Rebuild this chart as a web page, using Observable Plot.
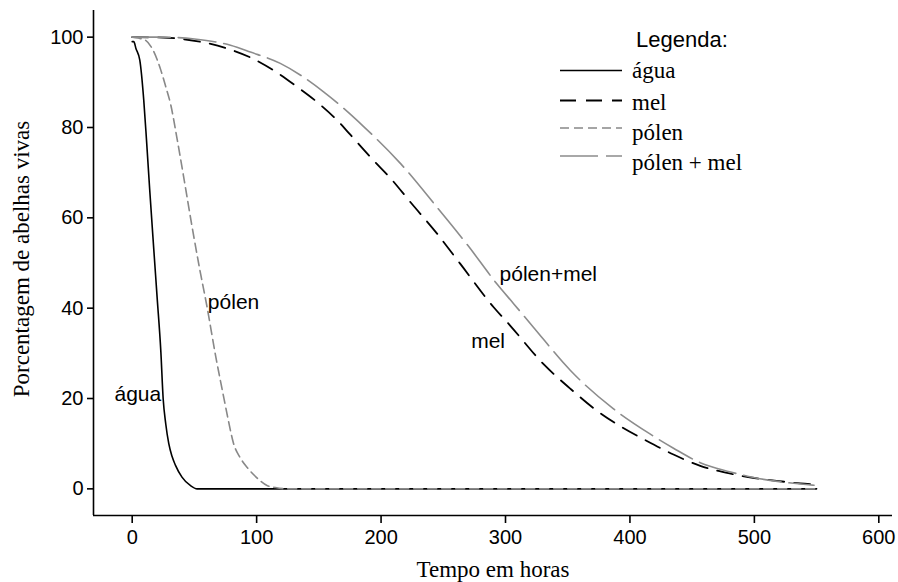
<!DOCTYPE html>
<html><head><meta charset="utf-8">
<script src="https://cdn.jsdelivr.net/npm/d3@7"></script>
<script src="https://cdn.jsdelivr.net/npm/@observablehq/plot@0.6"></script>
<style>
body{margin:0;background:#fff}
#wrap{position:relative;width:898px;height:582px;overflow:hidden}
#wrap svg.legend{position:absolute;left:0;top:0;pointer-events:none}
</style>
</head><body><div id="wrap"></div>
<script>
// ---- data ----
const aguaX = [0,1.3,3,6.1,9.3,11.5,14,17.4,20,23,24.9,27,29.4,32,34.8,40,46.9,52.2,55,550];
const aguaY = [99,99,97.5,94.9,86,77.2,66.5,52.8,42.5,30.5,19.9,14.3,10,7.2,5.2,2.6,0.7,0,0,0];

const melX = [0,25,50,75,95,115,132.5,150,164.7,175.3,194,207.5,223.5,245,263.7,290.5,303.9,330.6,352,373.4,389.6,413.6,435,456.5,480,500,520,537,548];
const melY = [100,99.9,99.2,97.6,95.5,92.4,89,85.3,81.6,78.4,72.7,68.8,63.5,56.5,49.8,40.2,36.1,27.6,22.2,17.3,14.3,10.6,7.6,5.1,3.4,2.4,1.7,1.2,1.0];

const polenX = [0,5,10.7,17,23,27,31,36,42,48.2,54,60.2,67,73.6,77,81.5,87,92.5,100,108.7,115,125,550];
const polenY = [100,99.8,99.3,97,92.7,89,85,77.6,68,57.9,49,40.2,29.5,20.2,15.5,10,6.8,4.7,2.5,0.7,0.3,0,0];

const polenMelX = [0,25,50,79,95,119,153.8,186,215.7,244.8,270,293,306.5,322.4,352.2,386.8,416.4,435,456.5,480,499.3,520,543.5,548];
const polenMelY = [100,100,99.6,98.2,96.7,94.2,87.9,80.2,72,62.4,53.8,45.4,41,35.8,26.2,17.7,12.1,9,5.8,3.8,2.5,1.6,0.9,0.8];

const seriesNames = ["água","mel","pólen","pólen + mel"];
const seriesX = [aguaX, melX, polenX, polenMelX];
const seriesY = [aguaY, melY, polenY, polenMelY];

const xTicks = [0,100,200,300,400,500,600];
const yTicks = [0,20,40,60,80,100];
const xDomain = [-31.1, 611];
const yDomain = [-5.9, 105.9];

const labelText = ["água","pólen","mel","pólen+mel"];
const labelX = [23.3, 60.8, 272.4, 295.2];
const labelY = [20.9, 41.3, 32.6, 47.5];

const xTitle = "Tempo em horas";
const yTitle = "Porcentagem de abelhas vivas";
const legendTitle = "Legenda:";

// ---- styles ----
const styles = [
  {stroke:"#000", width:1.6, dash:null},
  {stroke:"#000", width:1.8, dash:"16,10"},
  {stroke:"#888", width:1.6, dash:"9,5"},
  {stroke:"#8c8c8c", width:1.6, dash:"38,8"}
];
const serif = "'Liberation Serif', 'Times New Roman', serif";
const sans = "'Liberation Sans', Arial, sans-serif";

const rows = seriesNames.flatMap((n, k) => seriesX[k].map((x, i) => ({serie: n, hours: x, pct: seriesY[k][i]})));
const labels = labelText.map((t, i) => ({text: t, x: labelX[i], y: labelY[i]}));

const chart = Plot.plot({
  width: 898, height: 582,
  marginLeft: 93, marginRight: 6, marginTop: 10, marginBottom: 67,
  style: {fontFamily: sans, fontSize: "20px", background: "#fff", color: "#000"},
  x: {domain: xDomain},
  y: {domain: yDomain},
  marks: [
    Plot.ruleX([xDomain[0]], {stroke: "#000", strokeWidth: 1.6}),
    Plot.ruleY([yDomain[0]], {stroke: "#000", strokeWidth: 1.6}),
    Plot.axisX({ticks: xTicks, tickSize: 8, tickPadding: 6, label: null, fontSize: 20, strokeWidth: 1.6}),
    Plot.axisY({ticks: yTicks, tickSize: 6, tickPadding: 4, label: null, fontSize: 20, strokeWidth: 1.6}),
    ...seriesNames.map((n, k) => Plot.line(rows.filter(r => r.serie === n), {
      x: "hours", y: "pct", stroke: styles[k].stroke, strokeWidth: styles[k].width,
      strokeDasharray: styles[k].dash, curve: "monotone-x"
    })),
    Plot.text(labels.filter(d => d.text === "água"), {x: "x", y: "y", text: "text", textAnchor: "end", fontSize: 21, fontFamily: sans, fill: "#000"}),
    Plot.text(labels.filter(d => d.text !== "água"), {x: "x", y: "y", text: "text", textAnchor: "start", fontSize: 21, fontFamily: sans, fill: "#000"}),
    Plot.text([xTitle], {frameAnchor: "bottom", textAnchor: "middle", dy: 61, fontSize: 23, fontFamily: serif, fill: "#000"}),
    Plot.text([yTitle], {frameAnchor: "left", textAnchor: "middle", dx: -72, dy: -4, rotate: -90, fontSize: 23, fontFamily: serif, fill: "#000"})
  ]
});
const wrap = document.getElementById("wrap");
wrap.appendChild(chart);

// ---- legend (overlay) ----
const leg = d3.select(wrap).append("svg").attr("class", "legend").attr("width", 898).attr("height", 582);
leg.append("text").attr("x", 636).attr("y", 46.7).attr("font-family", sans).attr("font-size", 22).text(legendTitle);
const lineYs = [70.5, 100.5, 128, 156];
const textYs = [78, 110, 140, 170];
seriesNames.forEach((n, k) => {
  leg.append("line").attr("x1", 560).attr("x2", 622).attr("y1", lineYs[k]).attr("y2", lineYs[k])
    .attr("stroke", styles[k].stroke).attr("stroke-width", styles[k].width)
    .attr("stroke-dasharray", styles[k].dash);
  leg.append("text").attr("x", 632).attr("y", textYs[k]).attr("font-family", serif).attr("font-size", 23).text(n);
});
</script>
</body></html>
